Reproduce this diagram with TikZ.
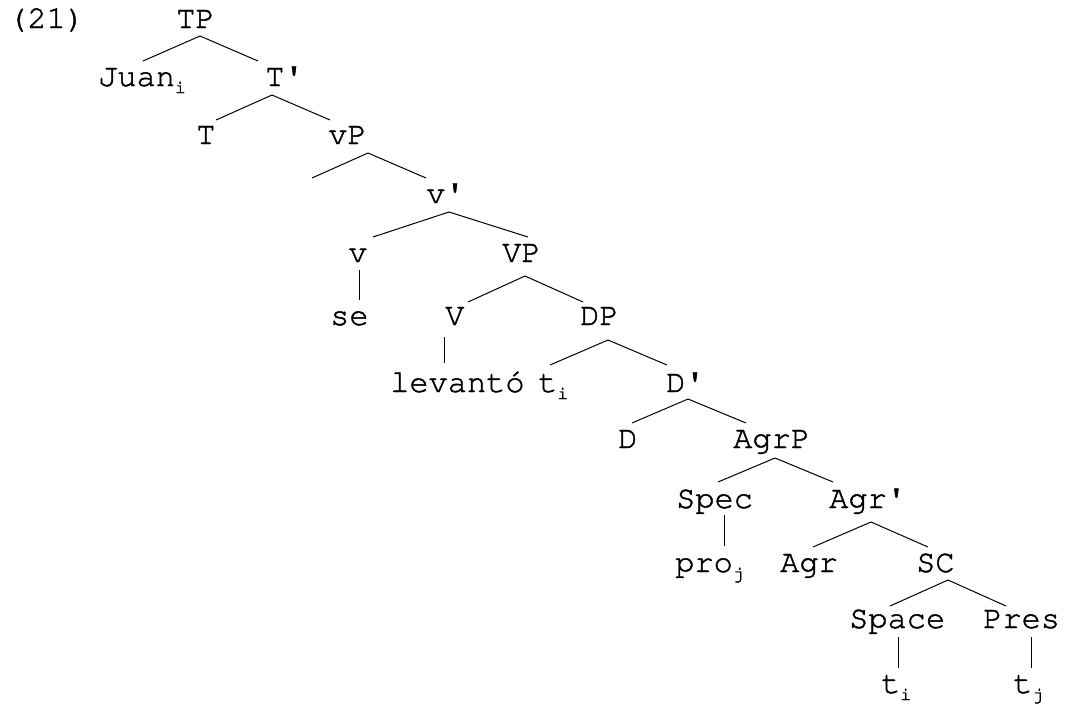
\documentclass[tikz,border=0pt]{standalone}
\usepackage[T1]{fontenc}
\usepackage{courier}
\newcommand\sbs[1]{\raisebox{-7pt}{\fontsize{18}{18}\selectfont #1}}
\begin{document}
\begin{tikzpicture}[x=1pt,y=-1pt,
  lab/.style={anchor=base west,inner sep=0pt,font=\ttfamily\fontsize{32}{36}\selectfont,
    execute at begin node={\special{pdf:code q 2 Tr 0.45 w}},
    execute at end node={\special{pdf:code Q}}},
  br/.style={line width=1pt}]
\fill[white] (0,0) rectangle (1065,705);
\useasboundingbox (0,0) rectangle (1065,705);
% labels
\node[lab] (ex)   at (8,28)    {(21)};
\node[lab] (TP)   at (176,28)  {TP};
\node[lab] (Juan) at (98,86)   {Juan\sbs{i}};
\node[lab] (Tb)   at (265,86)  {T\textquotesingle};
\node[lab] (T)    at (196,144) {T};
\node[lab] (vP)   at (328,144) {vP};
\node[lab] (vb)   at (426,203) {v\textquotesingle};
\node[lab] (v)    at (348,262) {v};
\node[lab] (VP)   at (502,262) {VP};
\node[lab] (se)   at (330,325) {se};
\node[lab] (V)    at (445,325) {V};
\node[lab] (DP)   at (580,325) {DP};
\node[lab] (lev)  at (390,392) {levant\'o};
\node[lab] (tia)  at (538,392) {t\sbs{i}};
\node[lab] (Db)   at (666,392) {D\textquotesingle};
\node[lab] (D)    at (618,448) {D};
\node[lab] (AgrP) at (733,448) {AgrP};
\node[lab] (Spec) at (676,508) {Spec};
\node[lab] (Agrb) at (829,508) {Agr\textquotesingle};
\node[lab] (pro)  at (675,572) {pro\sbs{j}};
\node[lab] (Agr)  at (780,572) {Agr};
\node[lab] (SC)   at (916,572) {SC};
\node[lab] (Space) at (849,628) {Space};
\node[lab] (Pres) at (983,628) {Pres};
\node[lab] (tib)  at (881,693) {t\sbs{i}};
\node[lab] (tj)   at (1013,693) {t\sbs{j}};
\coordinate (vPspec) at (312,178);
% branches
\draw[br] ([shift={(24,8)}]TP.base west) -- ([shift={(45,-25)}]Juan.base west);
\draw[br] ([shift={(24,8)}]TP.base west) -- ([shift={(-7,-25)}]Tb.base west);
\draw[br] ([shift={(7,9)}]Tb.base west) -- ([shift={(20,-24)}]T.base west);
\draw[br] ([shift={(7,9)}]Tb.base west) -- ([shift={(2,-24)}]vP.base west);
\draw[br] ([shift={(40,9)}]vP.base west) -- (vPspec);
\draw[br] ([shift={(40,9)}]vP.base west) -- ([shift={(0,-25)}]vb.base west);
\draw[br] ([shift={(23,9)}]vb.base west) -- ([shift={(25,-25)}]v.base west);
\draw[br] ([shift={(23,9)}]vb.base west) -- ([shift={(26,-25)}]VP.base west);
\draw[br] ([shift={(11,8)}]v.base west) -- ([shift={(29,-25)}]se.base west);
\draw[br] ([shift={(23,14)}]VP.base west) -- ([shift={(23,-23)}]V.base west);
\draw[br] ([shift={(23,14)}]VP.base west) -- ([shift={(3,-23)}]DP.base west);
\draw[br] ([shift={(-1,12)}]V.base west) -- ([shift={(54,-29)}]lev.base west);
\draw[br] ([shift={(28,15)}]DP.base west) -- ([shift={(12,-27)}]tia.base west);
\draw[br] ([shift={(28,15)}]DP.base west) -- ([shift={(1,-27)}]Db.base west);
\draw[br] ([shift={(22,7)}]Db.base west) -- ([shift={(14,-25)}]D.base west);
\draw[br] ([shift={(22,7)}]Db.base west) -- ([shift={(13,-25)}]AgrP.base west);
\draw[br] ([shift={(42,10)}]AgrP.base west) -- ([shift={(42,-26)}]Spec.base west);
\draw[br] ([shift={(42,10)}]AgrP.base west) -- ([shift={(4,-26)}]Agrb.base west);
\draw[br] ([shift={(48,7)}]Spec.base west) -- ([shift={(49,-26)}]pro.base west);
\draw[br] ([shift={(42,14)}]Agrb.base west) -- ([shift={(33,-25)}]Agr.base west);
\draw[br] ([shift={(42,14)}]Agrb.base west) -- ([shift={(12,-25)}]SC.base west);
\draw[br] ([shift={(32,8)}]SC.base west) -- ([shift={(41,-22)}]Space.base west);
\draw[br] ([shift={(32,8)}]SC.base west) -- ([shift={(23,-22)}]Pres.base west);
\draw[br] ([shift={(49,9)}]Space.base west) -- ([shift={(17,-25)}]tib.base west);
\draw[br] ([shift={(48,9)}]Pres.base west) -- ([shift={(18,-25)}]tj.base west);
\end{tikzpicture}
\end{document}
